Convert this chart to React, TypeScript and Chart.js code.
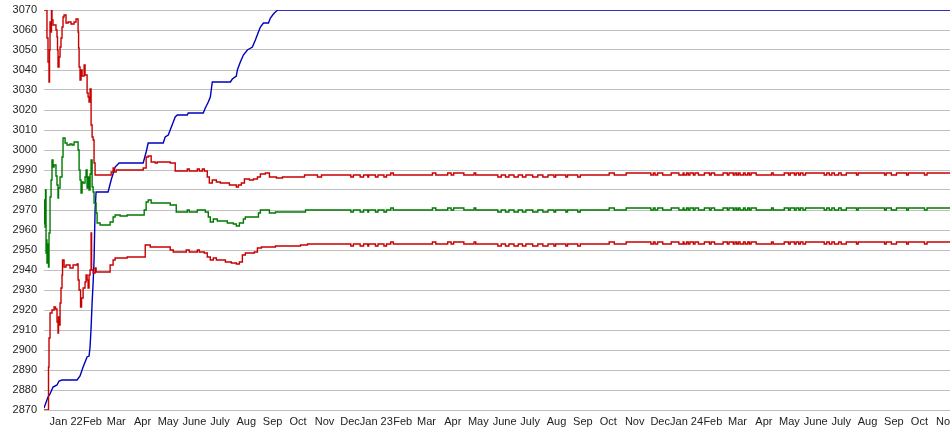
import { useEffect, useRef } from "react";
import { Chart, registerables } from "chart.js";

Chart.register(...registerables);

// x values are calendar days counted from 2021-12-06
const START_UTC = Date.UTC(2021, 11, 6);

const tickLabels = [
  "Jan 22", "Feb", "Mar", "Apr", "May", "June", "July", "Aug", "Sep", "Oct", "Nov", "Dec",
  "Jan 23", "Feb", "Mar", "Apr", "May", "June", "July", "Aug", "Sep", "Oct", "Nov", "Dec",
  "Jan 24", "Feb", "Mar", "Apr", "May", "June", "July", "Aug", "Sep", "Oct", "Nov",
];

const yTicksMin = 2870;
const yTicksMax = 3070;
const yTickStep = 10;

// Blue series
const blueDays = [
  0, 4.7, 7.1, 10.6, 15.3, 17.7, 21.2, 38.9, 42.4, 46.0,
  50.7, 53.0, 54.2, 55.4, 56.6, 57.8, 58.9, 60.1, 61.3, 75.4,
  79.0, 83.7, 88.4, 116.7, 120.2, 122.6, 140.3, 142.6, 146.2, 148.5,
  152.1, 154.4, 156.8, 168.6, 169.7, 187.4, 189.8, 193.3, 195.7, 198.0,
  219.3, 221.6, 226.3, 227.5, 231.0, 234.6, 239.3, 245.2, 248.7, 252.3,
  254.6, 258.2, 264.1, 266.4, 269.9, 273.5, 275.8, 1066,
];
const blueValues = [
  2871, 2876.5, 2878, 2881.5, 2882.5, 2884.5, 2885, 2885, 2887, 2891.5,
  2896.5, 2897, 2901.5, 2911, 2923.5, 2933.5, 2945, 2970, 2979, 2979,
  2985, 2991.5, 2993.5, 2993.5, 2999, 3003.5, 3003.5, 3006.5, 3007.5, 3010,
  3014, 3016.5, 3017.5, 3017.5, 3018.5, 3018.5, 3021, 3024, 3026.5, 3034,
  3034, 3035.5, 3037, 3040, 3044, 3047.5, 3050, 3051.5, 3055, 3059,
  3061.5, 3063.5, 3063.5, 3066, 3068, 3069.5, 3070, 3070,
];

// Upper red series (early part)
const upperDays = [
  0, 3.5, 4.7, 5.9, 6.5, 7.1, 8.3, 8.8, 9.4, 10.6,
  14.1, 15.3, 15.9, 16.5, 17.7, 18.9, 20.0, 21.2, 22.4, 23.6,
  25.9, 28.3, 31.8, 35.4, 37.7, 40.1, 40.7, 41.3, 42.4, 43.6,
  44.8, 47.2, 48.3, 50.7, 51.9, 53.0, 54.2, 55.4, 56.6, 57.8,
  58.9, 60.1, 79.0, 81.3, 82.5, 84.9, 116.7, 120.2, 122.6, 126.1,
  130.8, 133.2, 148.5, 154.4, 168.6, 170.9, 180.4, 182.7, 186.3, 188.6,
  192.1, 194.5, 198.0, 202.8, 207.5, 218.1, 226.3, 228.7, 232.2, 235.8,
  241.7, 246.4, 251.1, 254.6, 260.5, 265.2, 273.5, 280.6, 306.5, 321.8,
  326.5,
];
const upperValues = [
  3070, 3056, 3044, 3034, 3050, 3064, 3059, 3070, 3065, 3062.5,
  3060, 3056.5, 3050, 3041.5, 3046.5, 3051.5, 3056, 3061.5, 3066.5, 3067.5,
  3063.5, 3064, 3063, 3064, 3065.5, 3059, 3051, 3041.5, 3035, 3040,
  3037, 3042.5, 3037.5, 3028.5, 3026.5, 3024, 3030.5, 3012.5, 3006.5, 3005,
  2993.5, 2987.5, 2989, 2991, 2989, 2990, 2991, 2996.5, 2997, 2994,
  2993.5, 2994, 2993.5, 2989.5, 2990.5, 2989.5, 2990.5, 2989.5, 2990.5, 2989.5,
  2986.5, 2983.5, 2985, 2984, 2983.5, 2982.5, 2981.5, 2982.5, 2983.5, 2985.5,
  2985, 2985.5, 2986.5, 2988, 2988.5, 2986.5, 2986, 2986.5, 2987.5, 2986.5,
  2987.5,
];

// Green middle series (early part)
const midDays = [
  0, 0.6, 1.2, 1.8, 2.4, 2.9, 3.5, 4.7, 5.3, 5.9,
  7.1, 8.3, 9.4, 10.6, 11.8, 14.1, 15.3, 16.5, 17.1, 18.9,
  21.2, 22.4, 24.8, 27.1, 30.6, 33.0, 35.4, 40.1, 41.3, 42.4,
  43.6, 44.8, 46.0, 48.3, 49.5, 50.7, 51.9, 53.0, 54.2, 55.4,
  56.6, 57.8, 58.9, 61.3, 62.5, 66.0, 77.8, 81.3, 83.7, 89.6,
  97.8, 117.9, 120.2, 122.6, 126.1, 148.5, 155.6, 168.6, 170.9, 180.4,
  189.8, 193.3, 195.7, 199.2, 203.9, 215.7, 222.8, 226.3, 229.9, 234.6,
  236.9, 252.3, 254.6, 265.2, 272.3, 307.7,
];
const midValues = [
  2975, 2963.5, 2961.5, 2980, 2948.5, 2955, 2943.5, 2953, 2941.5, 2958.5,
  2976.5, 2985, 2995, 2991.5, 2992.5, 2987, 2982.5, 2976, 2981, 2986.5,
  2996.5, 3006, 3003.5, 3002.5, 3003, 3002.5, 3004, 3000, 2990, 2985,
  2978.5, 2984, 2983.5, 2986.5, 2990, 2981, 2986.5, 2980, 2988, 2995,
  2981.5, 2979, 2973.5, 2968.5, 2963.5, 2962.5, 2964, 2966.5, 2967.5, 2967,
  2967.5, 2970, 2974, 2975, 2973.5, 2972.5, 2969, 2970, 2969, 2970,
  2969, 2966.5, 2964, 2965.5, 2964.5, 2963.5, 2963, 2962, 2963.5, 2965.5,
  2966.5, 2968.5, 2970, 2968.5, 2969, 2970,
];

// Lower red series (early part)
const lowerDays = [
  0, 5.3, 5.9, 7.1, 9.4, 11.8, 13.6, 15.3, 16.5, 17.1,
  17.7, 18.9, 20.0, 21.2, 21.8, 23.6, 25.9, 30.6, 34.2, 38.9,
  40.1, 41.3, 43.0, 44.2, 46.0, 48.3, 49.5, 50.7, 51.9, 53.0,
  54.2, 55.4, 56.0, 57.8, 60.1, 61.3, 77.8, 81.3, 83.7, 97.8,
  119.1, 125.0, 148.5, 152.1, 167.4, 170.9, 180.4, 182.7, 188.6, 192.1,
  195.7, 199.2, 202.8, 213.4, 220.4, 226.3, 229.9, 233.4, 236.9, 247.5,
  251.1, 255.8, 272.3, 301.8, 310.0,
];
const lowerValues = [
  2870, 2891.5, 2906, 2918.5, 2920, 2921.5, 2920.5, 2914, 2908.5, 2916.5,
  2912.5, 2923.5, 2931, 2937.5, 2945, 2941.5, 2942.5, 2941, 2942.5, 2943,
  2935, 2930, 2921.5, 2926, 2931, 2934, 2937.5, 2935, 2931, 2937.5,
  2940, 2958.5, 2940, 2938.5, 2941, 2939, 2942.5, 2945, 2946, 2946.5,
  2952.5, 2951.5, 2950, 2949, 2950, 2949, 2950, 2949, 2948.5, 2946.5,
  2945, 2946, 2945, 2944, 2943.5, 2943, 2944, 2947.5, 2948.5, 2949,
  2951, 2951.5, 2952, 2952.5, 2953,
];

// Late part, shared days for the three band lines
const lateDays = [
  337, 361, 364, 372, 376, 381, 382, 390, 393, 400,
  403, 408, 411, 457, 461, 475, 479, 482, 494, 506,
  508, 534, 538, 543, 547, 553, 558, 563, 567, 575,
  581, 587, 593, 600, 602, 614, 616, 628, 631, 665,
  671, 685, 714, 717, 719, 722, 728, 738, 747, 752,
  753, 756, 758, 760, 764, 766, 770, 777, 783, 785,
  789, 799, 804, 806, 811, 813, 815, 817, 819, 823,
  825, 828, 830, 832, 838, 856, 858, 871, 876, 878,
  883, 885, 888, 890, 893, 896, 918, 921, 924, 927,
  930, 935, 938, 944, 956, 958, 989, 991, 997, 1003,
  1015, 1017, 1036, 1039, 1066,
];
const lateUpper = [
  2987.5, 2986.5, 2987.5, 2986.5, 2987.5, 2986.5, 2987.5, 2986.5, 2987.5, 2986.5,
  2987.5, 2988.5, 2987.5, 2988.5, 2987.5, 2988.5, 2987.5, 2988.5, 2987.5, 2988.5,
  2987.5, 2986.5, 2987.5, 2986.5, 2987.5, 2986.5, 2987.5, 2986.5, 2987.5, 2986.5,
  2987.5, 2986.5, 2987.5, 2986.5, 2987.5, 2986.5, 2987.5, 2986.5, 2987.5, 2988.5,
  2987.5, 2988.5, 2987.5, 2988.5, 2987.5, 2988.5, 2987.5, 2988.5, 2987.5, 2988.5,
  2987.5, 2988.5, 2987.5, 2988.5, 2987.5, 2988.5, 2987.5, 2988.5, 2987.5, 2988.5,
  2987.5, 2988.5, 2987.5, 2988.5, 2987.5, 2988.5, 2987.5, 2988.5, 2987.5, 2988.5,
  2987.5, 2988.5, 2987.5, 2988.5, 2987.5, 2988.5, 2987.5, 2988.5, 2987.5, 2988.5,
  2987.5, 2988.5, 2987.5, 2988.5, 2987.5, 2988.5, 2987.5, 2988.5, 2987.5, 2988.5,
  2987.5, 2988.5, 2987.5, 2988.5, 2987.5, 2988.5, 2987.5, 2988.5, 2987.5, 2988.5,
  2987.5, 2988.5, 2987.5, 2988.5, 2988.5,
];
const lateMid = [
  2970, 2969, 2970, 2969, 2970, 2969, 2970, 2969, 2970, 2969,
  2970, 2971, 2970, 2971, 2970, 2971, 2970, 2971, 2970, 2971,
  2970, 2969, 2970, 2969, 2970, 2969, 2970, 2969, 2970, 2969,
  2970, 2969, 2970, 2969, 2970, 2969, 2970, 2969, 2970, 2971,
  2970, 2971, 2970, 2971, 2970, 2971, 2970, 2971, 2970, 2971,
  2970, 2971, 2970, 2971, 2970, 2971, 2970, 2971, 2970, 2971,
  2970, 2971, 2970, 2971, 2970, 2971, 2970, 2971, 2970, 2971,
  2970, 2971, 2970, 2971, 2970, 2971, 2970, 2971, 2970, 2971,
  2970, 2971, 2970, 2971, 2970, 2971, 2970, 2971, 2970, 2971,
  2970, 2971, 2970, 2971, 2970, 2971, 2970, 2971, 2970, 2971,
  2970, 2971, 2970, 2971, 2971,
];
const lateLower = [
  2953, 2952, 2953, 2952, 2953, 2952, 2953, 2952, 2953, 2952,
  2953, 2954, 2953, 2954, 2953, 2954, 2953, 2954, 2953, 2954,
  2953, 2952, 2953, 2952, 2953, 2952, 2953, 2952, 2953, 2952,
  2953, 2952, 2953, 2952, 2953, 2952, 2953, 2952, 2953, 2954,
  2953, 2954, 2953, 2954, 2953, 2954, 2953, 2954, 2953, 2954,
  2953, 2954, 2953, 2954, 2953, 2954, 2953, 2954, 2953, 2954,
  2953, 2954, 2953, 2954, 2953, 2954, 2953, 2954, 2953, 2954,
  2953, 2954, 2953, 2954, 2953, 2954, 2953, 2954, 2953, 2954,
  2953, 2954, 2953, 2954, 2953, 2954, 2953, 2954, 2953, 2954,
  2953, 2954, 2953, 2954, 2953, 2954, 2953, 2954, 2953, 2954,
  2953, 2954, 2953, 2954, 2954,
];

const toPoints = (days: number[], vals: number[]) =>
  days.map((d, i) => ({ x: d, y: vals[i] }));

const tickDays = tickLabels.map((_, i) => {
  const y = 2022 + Math.floor(i / 12);
  const m = i % 12;
  return (Date.UTC(y, m, 1) - START_UTC) / 86400000;
});

const FONT = '"Liberation Sans", Arial, Helvetica, sans-serif';

const monthLabelPlugin = {
  id: "monthLabels",
  afterDraw(chart: any) {
    const ctx = chart.ctx;
    const xs = chart.scales.x;
    ctx.save();
    ctx.font = `11px ${FONT}`;
    ctx.fillStyle = "#222";
    ctx.textAlign = "center";
    ctx.textBaseline = "middle";
    const y = chart.chartArea.bottom + 12;
    tickLabels.forEach((lab, i) => {
      ctx.fillText(lab, xs.getPixelForValue(tickDays[i]), y);
    });
    ctx.restore();
  },
};

export default function App() {
  const ref = useRef<HTMLCanvasElement | null>(null);

  useEffect(() => {
    document.body.style.margin = "0";
    const canvas = ref.current;
    if (!canvas) return;
    const common = {
      pointRadius: 0,
      borderWidth: 1.4,
      fill: false,
      tension: 0,
    };
    const chart = new Chart(canvas, {
      type: "line",
      data: {
        datasets: [
          {
            ...common,
            label: "Lower",
            data: [...toPoints(lowerDays, lowerValues), ...toPoints(lateDays, lateLower)],
            borderColor: "#c80000",
            stepped: true,
          },
          {
            ...common,
            label: "Middle",
            data: [...toPoints(midDays, midValues), ...toPoints(lateDays, lateMid)],
            borderColor: "#007a00",
            stepped: true,
          },
          {
            ...common,
            label: "Upper",
            data: [...toPoints(upperDays, upperValues), ...toPoints(lateDays, lateUpper)],
            borderColor: "#c80000",
            stepped: true,
          },
          {
            ...common,
            label: "Blue",
            data: toPoints(blueDays, blueValues),
            borderColor: "#0000c0",
          },
        ],
      },
      options: {
        animation: false,
        responsive: true,
        maintainAspectRatio: false,
        parsing: false as any,
        layout: { padding: { top: 10, bottom: 25, left: 0, right: 0 } },
        plugins: {
          legend: { display: false },
          tooltip: { enabled: false },
        },
        scales: {
          x: {
            type: "linear",
            min: 0,
            max: 1066,
            display: false,
          },
          y: {
            min: yTicksMin,
            max: yTicksMax,
            ticks: {
              stepSize: yTickStep,
              color: "#222",
              font: { size: 11, family: FONT },
              padding: 7,
              callback: (v: any) => String(v),
            },
            grid: { color: "#c0c0c0", drawTicks: false, lineWidth: 1 },
            border: { display: false },
            afterFit: (scale: any) => {
              scale.width = 44;
              scale.paddingTop = 0;
              scale.paddingBottom = 0;
            },
          },
        },
      },
      plugins: [monthLabelPlugin],
    });
    return () => chart.destroy();
  }, []);

  return (
    <div style={{ width: 950, height: 435, position: "relative" }}>
      <canvas ref={ref} />
    </div>
  );
}
